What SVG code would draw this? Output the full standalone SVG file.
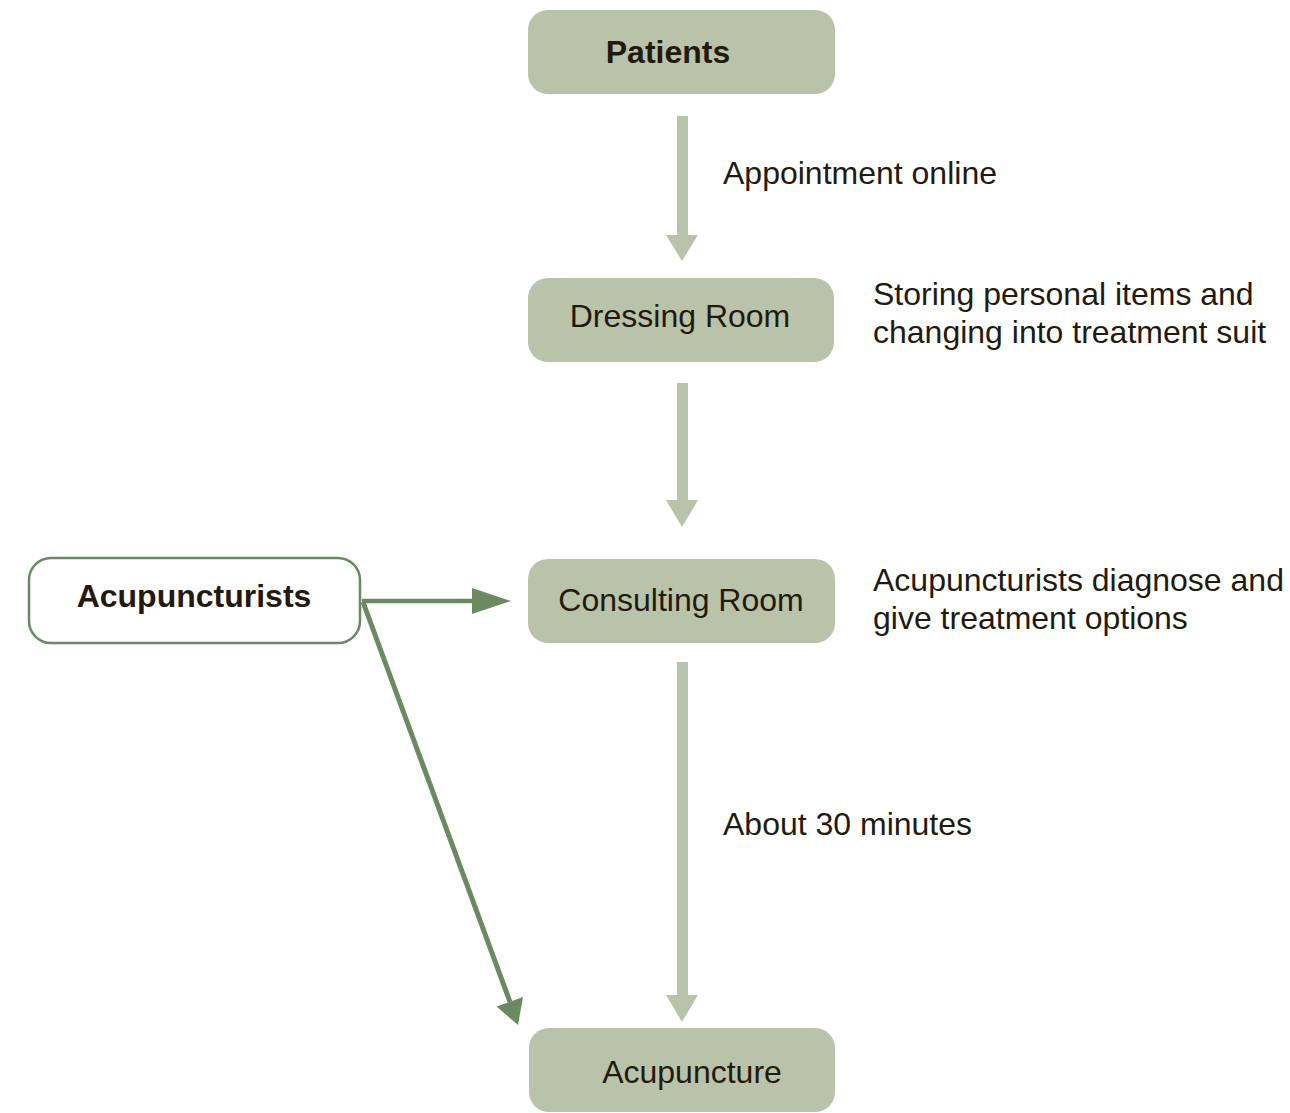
<svg xmlns="http://www.w3.org/2000/svg" width="1290" height="1113" viewBox="0 0 1290 1113">
<defs>
<style>
.box{fill:#b9c3aa;}
.obox{fill:#ffffff;stroke:#6b8a62;stroke-width:2.5;}
.t{font-family:"Liberation Sans",Arial,sans-serif;font-size:32px;fill:#231a0d;}
.b{font-weight:bold;}
.m{text-anchor:middle;}
.sh{fill:#b9c3aa;}
.g{stroke:#6b8a62;stroke-width:4.5;fill:none;}
.gh{fill:#6b8a62;}
</style>
</defs>
<rect width="1290" height="1113" fill="#ffffff"/>
<g id="connectors">
<rect class="sh" x="677" y="116" width="11" height="120"/>
<polygon class="sh" points="666,235 698,235 682,261"/>
<rect class="sh" x="677" y="383" width="11" height="118"/>
<polygon class="sh" points="666,500 698,500 682,527"/>
<rect class="sh" x="677" y="662" width="11" height="334"/>
<polygon class="sh" points="666,995 698,995 682,1022"/>
<line class="g" x1="362" y1="601" x2="475" y2="601"/>
<polygon class="gh" points="472,588 511,601 472,614"/>
<line class="g" x1="363" y1="602" x2="510" y2="1002" style="stroke-width:5"/>
<polygon class="gh" points="496.6,1006.6 523,997 518,1025"/>
</g>
<g id="patients">
<rect class="box" x="528" y="10" width="307" height="84" rx="20"/>
<text class="t b m" x="668" y="63">Patients</text>
</g>
<g id="dressing">
<rect class="box" x="528" y="278" width="306" height="84" rx="20"/>
<text class="t m" x="680" y="327">Dressing Room</text>
</g>
<g id="consulting">
<rect class="box" x="528" y="559" width="307" height="84" rx="20"/>
<text class="t m" x="681" y="611">Consulting Room</text>
</g>
<g id="acupuncture">
<rect class="box" x="529" y="1028" width="306" height="84" rx="20"/>
<text class="t m" x="692" y="1083">Acupuncture</text>
</g>
<g id="acupuncturists">
<rect class="obox" x="29" y="558" width="331" height="85" rx="22"/>
<text class="t b m" x="194" y="607">Acupuncturists</text>
</g>
<g id="labels">
<text class="t" x="723" y="184">Appointment online</text>
<text class="t" x="873" y="305">Storing personal items and</text>
<text class="t" x="873" y="343">changing into treatment suit</text>
<text class="t" x="873" y="591">Acupuncturists diagnose and</text>
<text class="t" x="873" y="629">give treatment options</text>
<text class="t" x="723" y="835">About 30 minutes</text>
</g>
</svg>
